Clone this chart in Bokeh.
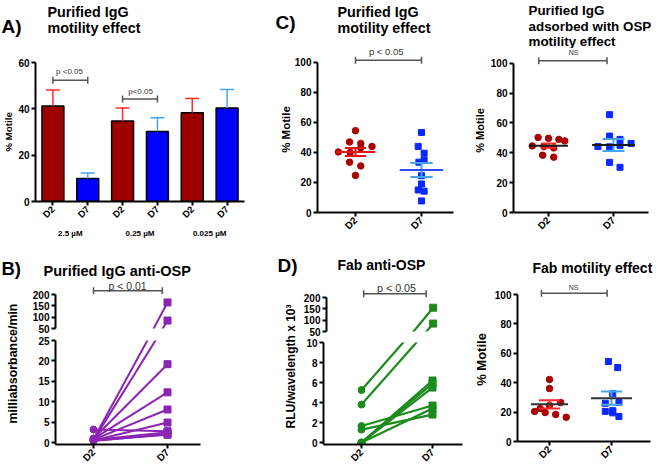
import math
from bokeh.plotting import figure
from bokeh.models import ColumnDataSource, FactorRange, Range1d, FixedTicker, Label
from bokeh.layouts import row, column
from bokeh.transform import dodge
from bokeh.embed import file_html
from bokeh.resources import INLINE

FONT = "Liberation Sans"

# ---------------- data ----------------
# A) purified IgG motility effect: mean % motile and SEM
a_groups = ["2.5 µM", "0.25 µM", "0.025 µM"]
a_days = ["D2", "D7"]
a_d2_mean = [41.2, 34.8, 38.3]
a_d2_sem = [6.9, 5.6, 6.2]
a_d7_mean = [9.9, 30.2, 40.4]
a_d7_sem = [2.4, 5.9, 7.9]
a_sig_groups = ["2.5 µM", "0.25 µM"]
a_sig_y = [52.3, 44.2]
a_sig_text = ["p <0.05", "p<0.05"]
a_ticks = [0, 20, 40, 60]

# B) purified IgG anti-OSP (milliabsorbance/min), paired D2 -> D7
b_d2 = [0.8, 0.6, 1.0, 0.9, 0.7, 0.5, 3.2, 0.6, 0.4, 0.5]
b_d7 = [165, 85, 19.2, 12.3, 8.1, 4.9, 2.8, 2.5, 2.1, 1.9]
b_lower_ticks = [0, 5, 10, 15, 20, 25]
b_upper_ticks = [50, 100, 150, 200]
b_sig_y = 217.0

# C) purified IgG motility effect (% motile)
c_d2 = [54.5, 47, 46, 44, 43, 40.3, 40, 33.5, 31, 24.7]
c_d7 = [53.3, 44, 39.5, 35, 33.5, 24.5, 19, 15, 14.2, 7.7]
c_mean = [40.3, 28.3]
c_sem = [2.7, 4.7]
c_sig_y = 101.3

# C2) purified IgG adsorbed with OSP motility effect (% motile)
c2_d2 = [50.3, 49.7, 49, 48, 44.6, 44.2, 43.3, 38.4, 37.1]
c2_d7 = [65.6, 51.2, 49, 46.3, 44.2, 44, 45, 33.6, 30.3]
c2_mean = [44.8, 45.3]
c2_sem = [1.4, 4.0]
c2_sig_y = 101.7

# D) Fab anti-OSP (RLU/wavelength x 10^3), paired D2 -> D7
d_d2 = [5.25, 3.8, 1.65, 1.3, 0, 0, 0, 0]
d_d7 = [155, 85, 3.7, 2.8, 6.2, 5.9, 5.5, 3.4]
d_lower_ticks = [0, 2, 4, 6, 8, 10]
d_upper_ticks = [50, 100, 150, 200]
d_sig_y = 217.0

# E) Fab motility effect (% motile)
e_d2 = [42.2, 36, 26.5, 24.5, 22.4, 20.4, 19.7, 18.4, 16.5]
e_d7 = [54.4, 50.3, 32.5, 26.5, 26, 21, 20.5, 19.5, 17]
e_mean = [25.3, 29.5]
e_sem = [2.8, 4.5]
e_sig_y = 100.8

days = ["D2", "D7"]
motile_ticks = [0, 20, 40, 60, 80, 100]

# horizontal scatter offsets of the points (layout only)
c_d2_dx = [0, -0.09, 0.08, 0.25, 0.08, -0.26, -0.08, -0.09, 0.08, 0]
c_d7_dx = [0, -0.05, 0.04, 0.04, -0.04, 0, 0, -0.05, 0.04, 0]
c2_d2_dx = [-0.16, 0, 0.16, 0.25, -0.25, -0.07, 0.08, -0.09, 0.08]
c2_d7_dx = [-0.06, -0.06, 0.1, 0.27, -0.24, -0.06, 0.1, -0.06, 0.1]
e_d2_dx = [0, 0, 0.18, 0, -0.15, -0.24, -0.07, 0.1, 0.27]
e_d7_dx = [-0.05, 0.1, 0.02, 0.12, -0.1, 0.02, -0.1, 0.02, 0.12]

# ---------------- colours ----------------
BAR_RED = "#9e0000"
BAR_BLUE = "#0000ff"
ERR_RED = "#ff2a2a"
ERR_BLUE = "#45a5f5"
PT_RED = "#a80000"
PT_BLUE = "#0a28ff"
PURPLE = "#8b25b3"
GREEN = "#1d8a1d"
GRAY = "#555555"
TXT_GRAY = "#333333"


# ---------------- helpers ----------------
def lin_range(v0, r0, v1, r1, a_r, b_r):
    s = (r1 - r0) / (v1 - v0)
    return v0 + (a_r - r0) / s, v0 + (b_r - r0) / s


def style_axes(p):
    for ax in p.axis:
        ax.axis_line_width = 2
        ax.axis_line_color = "black"
        ax.major_tick_line_width = 2
        ax.major_tick_line_color = "black"
        ax.major_tick_out = 4
        ax.major_tick_in = 0
        ax.minor_tick_line_color = None
        ax.major_label_text_font = FONT
        ax.major_label_text_font_style = "bold"
        ax.major_label_text_color = "black"
        ax.major_label_text_font_size = "10px"
        ax.major_label_standoff = 2
        ax.axis_label_text_font = FONT
        ax.axis_label_text_font_style = "bold"
        ax.axis_label_text_color = "black"


def make_fig(cell, frame, x_range, y_range):
    x0, y0, x1, y1 = cell
    fl, ft, fr, fb = frame
    p = figure(width=x1 - x0, height=y1 - y0, x_range=x_range, y_range=y_range,
               min_border_left=fl - x0, min_border_right=x1 - fr,
               min_border_top=ft - y0, min_border_bottom=y1 - fb,
               output_backend="svg", toolbar_location=None, title=None)
    p.outline_line_color = None
    p.xgrid.visible = False
    p.ygrid.visible = False
    style_axes(p)
    return p, frame


def text_fig(cell):
    x0, y0, x1, y1 = cell
    p = figure(width=x1 - x0, height=y1 - y0, x_range=Range1d(0, 1), y_range=Range1d(0, 1),
               x_axis_type=None, y_axis_type=None,
               min_border_left=0, min_border_right=0, min_border_top=0, min_border_bottom=0,
               output_backend="svg", toolbar_location=None, title=None)
    p.outline_line_color = None
    return p, cell


def iso(item):
    # wrap a figure on its own so that its frame is not aligned with its neighbours
    return row(item)


def txt(p, fr, rx, ry, text, size, bold=True, align="left", color="black", angle=0.0):
    fl, ft, frr, fb = fr
    p.add_layout(Label(x=rx - fl, y=fb - ry, x_units="screen", y_units="screen",
                       text=text, text_font=FONT, text_font_size=f"{size}px",
                       text_font_style="bold" if bold else "normal", text_color=color,
                       text_align=align, text_baseline="middle", angle=angle))


def bracket(p, x0, x1, y):
    p.segment(x0=[x0], y0=[y], x1=[x1], y1=[y], line_color=GRAY, line_width=1.5)
    p.scatter(x=[x0, x1], y=[y, y], marker="dash", angle=math.pi / 2, size=7,
              line_color=GRAY, line_width=1.5)


def day_axis(p, size="10px"):
    p.xaxis.ticker = FixedTicker(ticks=[1, 2])
    p.xaxis.major_label_overrides = {1: days[0], 2: days[1]}
    p.xaxis.major_label_orientation = math.pi / 4
    p.xaxis.major_label_text_font_size = size


def ylabel(p, text, size, standoff):
    p.yaxis.axis_label = text
    p.yaxis.axis_label_text_font_size = f"{size}px"
    p.yaxis.axis_label_standoff = standoff


def motility(p, d2, d7, d2dx, d7dx, mean, sem, mean_cols, sem_cols, mean_hw, sem_hw):
    p.scatter(x=[1 + dx for dx in d2dx], y=d2, marker="circle", size=6.5,
              fill_color=PT_RED, line_color=PT_RED)
    p.scatter(x=[2 + dx for dx in d7dx], y=d7, marker="square", size=6,
              fill_color=PT_BLUE, line_color=PT_BLUE)
    for i in range(2):
        xc = i + 1
        m, s = mean[i], sem[i]
        p.segment(x0=[xc, xc - sem_hw[i], xc - sem_hw[i]], y0=[m - s, m + s, m - s],
                  x1=[xc, xc + sem_hw[i], xc + sem_hw[i]], y1=[m + s, m + s, m - s],
                  line_color=sem_cols[i], line_width=2)
        p.segment(x0=[xc - mean_hw[i]], y0=[m], x1=[xc + mean_hw[i]], y1=[m],
                  line_color=mean_cols[i], line_width=2)
    p.yaxis.ticker = FixedTicker(ticks=motile_ticks)
    p.yaxis.bounds = (0, 100)
    day_axis(p)


# ======================= column 1 : A and B =======================
tA, ftA = text_fig((0, 0, 262, 44))
txt(tA, ftA, 1, 26, "A)", 19)
txt(tA, ftA, 47, 11, "Purified IgG", 14.3)
txt(tA, ftA, 47, 27, "motility effect", 14.3)

a_factors = [(g, d) for g in a_groups for d in a_days]
a_means, a_sems = [], []
for i in range(len(a_groups)):
    a_means += [a_d2_mean[i], a_d7_mean[i]]
    a_sems += [a_d2_sem[i], a_d7_sem[i]]
a_src = ColumnDataSource(dict(
    x=a_factors, top=a_means, hi=[m + s for m, s in zip(a_means, a_sems)],
    fill=[BAR_RED, BAR_BLUE] * len(a_groups), errc=[ERR_RED, ERR_BLUE] * len(a_groups)))
a_xr = FactorRange(*a_factors, factor_padding=0, group_padding=0, range_padding=0)
pA, fA = make_fig((0, 44, 262, 240), (34, 62, 244, 203), a_xr, Range1d(0, 60))
pA.vbar(x="x", top="top", width=0.63, source=a_src, fill_color="fill",
        line_color="black", line_width=1.5)
pA.segment(x0="x", y0="top", x1="x", y1="hi", source=a_src, line_color="errc", line_width=1.5)
pA.segment(x0=dodge("x", -0.2, range=a_xr), y0="hi", x1=dodge("x", 0.2, range=a_xr), y1="hi",
           source=a_src, line_color="errc", line_width=1.5)
for g, yv in zip(a_sig_groups, a_sig_y):
    bracket(pA, (g, "D2"), (g, "D7"), yv)
pA.yaxis.ticker = FixedTicker(ticks=a_ticks)
ylabel(pA, "% Motile", 9.8, 1)
ax = pA.xaxis[0]
ax.major_label_orientation = math.pi / 4
ax.major_label_text_font_size = "9.5px"
ax.group_text_font = FONT
ax.group_text_font_size = "8px"
ax.group_text_font_style = "bold"
ax.group_text_color = "black"
ax.separator_line_color = None
txt(pA, fA, 68, 73, a_sig_text[0], 8, bold=False, align="center", color=TXT_GRAY)
txt(pA, fA, 139, 93, a_sig_text[1], 8, bold=False, align="center", color=TXT_GRAY)

tB, ftB = text_fig((0, 240, 262, 280))
txt(tB, ftB, 1, 267.5, "B)", 18.5)
txt(tB, ftB, 43, 270, "Purified IgG anti-OSP", 14.5)

labB, flB = text_fig((0, 280, 22, 470))
txt(labB, flB, 12.5, 363, "milliabsorbance/min", 12.4, align="center", angle=math.pi / 2)

B_PX = 105.0 / 25.0                 # px per unit in the lower segment
B_K = (34.0 / 150.0) / B_PX          # compression of the upper segment
B_GAP = 12.0 / B_PX


def b_t(v):
    return v if v <= 25 else 25 + B_GAP + (v - 50) * B_K


b_xr = Range1d(*lin_range(1, 93, 2, 167, 55, 200))
b_up_yr = Range1d(*lin_range(b_t(50), 328, b_t(200), 294, 328, 280))
b_lo_yr = Range1d(*lin_range(0, 445, 25, 340, 447, 340))
pBu, fBu = make_fig((22, 280, 262, 334), (55, 280, 200, 328), b_xr, b_up_yr)
pBl, fBl = make_fig((22, 334, 262, 470), (55, 340, 200, 447), b_xr, b_lo_yr)
for p in (pBu, pBl):
    p.segment(x0=[1] * len(b_d2), y0=[b_t(v) for v in b_d2], x1=[2] * len(b_d7),
              y1=[b_t(v) for v in b_d7], line_color=PURPLE, line_width=2)
    p.scatter(x=[1] * len(b_d2), y=[b_t(v) for v in b_d2], marker="circle", size=7,
              fill_color=PURPLE, line_color=PURPLE)
    p.scatter(x=[2] * len(b_d7), y=[b_t(v) for v in b_d7], marker="square", size=7,
              fill_color=PURPLE, line_color=PURPLE)
pBu.xaxis.visible = False
pBu.yaxis.ticker = FixedTicker(ticks=[b_t(v) for v in b_upper_ticks])
pBu.yaxis.major_label_overrides = {b_t(v): str(v) for v in b_upper_ticks}
pBu.yaxis.bounds = (b_t(50), b_t(200))
pBl.yaxis.ticker = FixedTicker(ticks=b_lower_ticks)
pBl.yaxis.bounds = (b_lo_yr.start, 25)
day_axis(pBl)
bracket(pBu, 1, 1.93, b_t(b_sig_y))
txt(pBu, fBu, 127, 285, "p < 0.01", 10.5, bold=False, align="center", color=TXT_GRAY)

# ======================= column 2 : C and D =======================
tC, ftC = text_fig((262, 0, 468, 40))
txt(tC, ftC, 275, 22, "C)", 19)
txt(tC, ftC, 337, 11, "Purified IgG", 14.3)
txt(tC, ftC, 337, 27, "motility effect", 14.3)

c_xr = Range1d(*lin_range(1, 355, 2, 421, 317, 453))
c_yr = Range1d(*lin_range(0, 214, 100, 62, 214, 46))
pC, fC = make_fig((262, 40, 468, 238), (317, 46, 453, 214), c_xr, c_yr)
motility(pC, c_d2, c_d7, c_d2_dx, c_d7_dx, c_mean, c_sem,
         ["#ee1111", "#2f4bff"], ["#ee1111", ERR_BLUE], [0.3, 0.33], [0.16, 0.17])
bracket(pC, 1, 2, c_sig_y)
ylabel(pC, "% Motile", 11.5, 0)
txt(pC, fC, 387, 53, "p <  0.05", 9.5, bold=False, align="center", color=TXT_GRAY)

tD, ftD = text_fig((262, 238, 468, 279))
txt(tD, ftD, 277, 265, "D)", 19)
txt(tD, ftD, 337, 264, "Fab anti-OSP", 14)

labD, flD = text_fig((262, 279, 300, 470))
txt(labD, flD, 290, 366, "RLU/wavelength x 10³", 12, align="center", angle=math.pi / 2)

D_PX = 104.0 / 10.0
D_K = (34.0 / 150.0) / D_PX
D_GAP = 11.0 / D_PX


def d_t(v):
    return v if v <= 10 else 10 + D_GAP + (v - 50) * D_K


d_xr = Range1d(*lin_range(1, 361, 2, 432, 323, 462))
d_up_yr = Range1d(*lin_range(d_t(50), 331, d_t(200), 297, 331, 279))
d_lo_yr = Range1d(*lin_range(0, 446, 10, 342, 448, 342))
pDu, fDu = make_fig((300, 279, 468, 336), (323, 279, 462, 331), d_xr, d_up_yr)
pDl, fDl = make_fig((300, 336, 468, 470), (323, 342, 462, 448), d_xr, d_lo_yr)
for p in (pDu, pDl):
    p.segment(x0=[1] * len(d_d2), y0=[d_t(v) for v in d_d2], x1=[2] * len(d_d7),
              y1=[d_t(v) for v in d_d7], line_color=GREEN, line_width=2.2)
    p.scatter(x=[1] * len(d_d2), y=[d_t(v) for v in d_d2], marker="circle", size=7,
              fill_color=GREEN, line_color=GREEN)
    p.scatter(x=[2] * len(d_d7), y=[d_t(v) for v in d_d7], marker="square", size=7,
              fill_color=GREEN, line_color=GREEN)
pDu.xaxis.visible = False
pDu.yaxis.ticker = FixedTicker(ticks=[d_t(v) for v in d_upper_ticks])
pDu.yaxis.major_label_overrides = {d_t(v): str(v) for v in d_upper_ticks}
pDu.yaxis.bounds = (d_t(50), d_t(200))
pDl.yaxis.ticker = FixedTicker(ticks=d_lower_ticks)
pDl.yaxis.bounds = (d_lo_yr.start, 10)
day_axis(pDl)
bracket(pDu, 1, 1.9, d_t(d_sig_y))
txt(pDu, fDu, 393, 287, "p < 0.05", 10.7, bold=False, align="center", color=TXT_GRAY)

# ======================= column 3 : C2 and E =======================
tC2, ftC2 = text_fig((468, 0, 660, 48))
txt(tC2, ftC2, 528, 10, "Purified IgG", 13.4)
txt(tC2, ftC2, 528, 25.5, "adsorbed with OSP", 13.4)
txt(tC2, ftC2, 528, 41, "motility effect", 13.4)

c2_xr = Range1d(*lin_range(1, 548, 2, 613, 513, 648))
c2_yr = Range1d(*lin_range(0, 214, 100, 63, 214, 48))
pC2, fC2 = make_fig((468, 48, 660, 238), (513, 48, 648, 214), c2_xr, c2_yr)
motility(pC2, c2_d2, c2_d7, c2_d2_dx, c2_d7_dx, c2_mean, c2_sem,
         ["#1a1a1a", "#1a1a1a"], [ERR_RED, ERR_BLUE], [0.3, 0.33], [0.12, 0.17])
bracket(pC2, 0.85, 1.9, c2_sig_y)
ylabel(pC2, "% Motile", 11, 2)
txt(pC2, fC2, 573, 54, "NS", 7, bold=False, align="center", color=TXT_GRAY)

tE, ftE = text_fig((468, 238, 660, 277))
txt(tE, ftE, 532, 267, "Fab motility effect", 14)

e_xr = Range1d(*lin_range(1, 549, 2, 611, 517, 650))
e_yr = Range1d(*lin_range(0, 441, 100, 294, 441, 277))
pE, fE = make_fig((468, 277, 660, 470), (517, 277, 650, 441), e_xr, e_yr)
motility(pE, e_d2, e_d7, e_d2_dx, e_d7_dx, e_mean, e_sem,
         ["#333333", "#333333"], [ERR_RED, ERR_BLUE], [0.3, 0.33], [0.17, 0.17])
bracket(pE, 0.87, 1.93, e_sig_y)
ylabel(pE, "% Motile", 13, 3)
txt(pE, fE, 573, 287, "NS", 7, bold=False, align="center", color=TXT_GRAY)

layout = row(
    column(iso(tA), iso(pA), iso(tB), row(iso(labB), column(iso(pBu), iso(pBl)))),
    column(iso(tC), iso(pC), iso(tD), row(iso(labD), column(iso(pDu), iso(pDl)))),
    column(iso(tC2), iso(pC2), iso(tE), iso(pE)),
)

open("out.html", "w").write(file_html(layout, INLINE))
